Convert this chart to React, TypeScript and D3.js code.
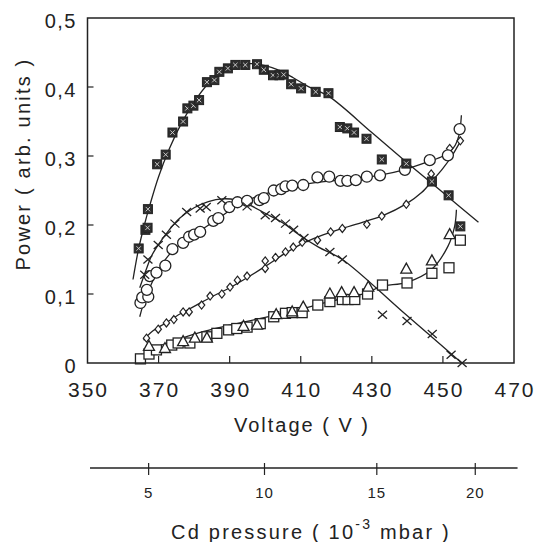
import React from 'react';
import * as d3 from 'd3';

type Pt = [number, number];

// Axis ticks
const xTicks = [350, 370, 390, 410, 430, 450, 470];
const yTicks = [0, 0.1, 0.2, 0.3, 0.4, 0.5];
const yTickLabels = ['0', '0,1', '0,2', '0,3', '0,4', '0,5'];
const pressureTicks = [5, 10, 15, 20];
const pressureTickVoltage = [367.2, 399.8, 431.4, 459.1];

// Series: [voltage, power]
const crossedSquares: Pt[] = [
  [364.4, 0.166], [366.3, 0.193], [366.9, 0.196], [367.0, 0.223], [369.6, 0.288], [372.0, 0.302],
  [373.9, 0.334], [376.9, 0.35], [378.1, 0.369], [379.8, 0.373], [381.4, 0.381], [383.6, 0.407],
  [385.7, 0.41], [387.1, 0.422], [389.5, 0.427], [391.6, 0.432], [394.4, 0.432], [397.7, 0.433],
  [399.6, 0.425], [402.2, 0.417], [404.0, 0.417], [405.2, 0.418], [407.3, 0.404], [410.1, 0.398],
  [414.2, 0.393], [417.8, 0.391], [421.0, 0.342], [423.1, 0.34], [425.0, 0.334], [428.5, 0.325],
  [432.8, 0.295], [439.7, 0.289], [446.9, 0.263], [451.6, 0.243], [454.9, 0.198],
];
const crossedSquaresFit: Pt[] = [
  [362.8, 0.121], [364.4, 0.166], [366, 0.2], [367.5, 0.228], [370, 0.27], [373, 0.31], [376, 0.343],
  [380, 0.378], [384, 0.405], [388, 0.422], [392, 0.431], [396, 0.434], [400, 0.431], [404, 0.424],
  [408, 0.413], [412, 0.401], [418, 0.386], [430, 0.334], [440, 0.29], [450, 0.247], [460, 0.204],
];

const circles: Pt[] = [
  [364.9, 0.087], [365.4, 0.095], [367.1, 0.096], [366.7, 0.106], [367.5, 0.126], [369.4, 0.131],
  [371.9, 0.141], [373.9, 0.165], [376.9, 0.174], [378.6, 0.183], [380.0, 0.186], [381.7, 0.19],
  [385.4, 0.206], [386.8, 0.21], [389.9, 0.226], [392.2, 0.233], [394.9, 0.235], [398.4, 0.236],
  [399.6, 0.239], [402.4, 0.25], [404.5, 0.252], [405.7, 0.256], [407.6, 0.257], [410.7, 0.258],
  [414.7, 0.269], [418.0, 0.27], [421.2, 0.264], [423.1, 0.264], [425.5, 0.265], [428.6, 0.27],
  [432.3, 0.272], [439.3, 0.28], [446.3, 0.294], [451.4, 0.301], [454.7, 0.339],
];
const circlesFit: Pt[] = [
  [364.7, 0.067], [366, 0.09], [368, 0.115], [370, 0.135], [373, 0.157], [377, 0.176], [382, 0.193],
  [387, 0.21], [392, 0.228], [397, 0.24], [402, 0.248], [408, 0.256], [415, 0.262], [425, 0.267],
  [432, 0.272], [439, 0.28], [446, 0.292], [450, 0.3], [453, 0.312], [454.5, 0.33], [455.2, 0.359],
];

const diamonds: Pt[] = [
  [366.6, 0.036], [369.9, 0.049], [372.2, 0.058], [374.3, 0.063], [376.9, 0.074], [378.6, 0.074],
  [382.1, 0.084], [384.5, 0.097], [387.8, 0.1], [390.1, 0.11], [392.2, 0.12], [394.9, 0.126],
  [400.0, 0.137], [400.0, 0.148], [402.9, 0.153], [405.7, 0.161], [407.9, 0.168], [410.4, 0.175],
  [414.7, 0.178], [418.4, 0.19], [421.7, 0.195], [428.6, 0.201], [432.8, 0.213], [439.7, 0.23],
  [446.7, 0.274], [451.9, 0.311], [454.9, 0.322],
];
const diamondsFit: Pt[] = [
  [365.8, 0.033], [368, 0.045], [372, 0.058], [376, 0.071], [380, 0.082], [385, 0.096], [390, 0.109],
  [395, 0.124], [400, 0.14], [405, 0.157], [410, 0.172], [415, 0.183], [421.7, 0.195], [428, 0.205],
  [432.8, 0.213], [439.8, 0.231], [444, 0.247], [447, 0.264], [450, 0.282], [452.5, 0.3], [455, 0.322],
];

const crosses: Pt[] = [
  [366.1, 0.128], [367.0, 0.15], [369.9, 0.171], [372.2, 0.186], [374.6, 0.202], [377.9, 0.219],
  [381.7, 0.224], [383.4, 0.226], [387.8, 0.236], [394.9, 0.227], [400.0, 0.214], [402.9, 0.21],
  [405.7, 0.202], [408.0, 0.193], [410.9, 0.181], [418.2, 0.161], [421.7, 0.15], [433.0, 0.07],
  [439.9, 0.061], [447.0, 0.042], [452.3, 0.012], [455.4, 0.0],
];
const crossesFit: Pt[] = [
  [364.7, 0.109], [366.5, 0.135], [368, 0.155], [370, 0.172], [373, 0.193], [376, 0.21], [380, 0.225],
  [384, 0.234], [388, 0.238], [392, 0.236], [396, 0.228], [400, 0.217], [405, 0.203], [410, 0.184],
  [415, 0.168], [421.7, 0.15], [438.5, 0.075], [455.3, 0.0],
];

const squares: Pt[] = [
  [364.9, 0.006], [367.3, 0.013], [369.4, 0.019], [373.7, 0.026], [375.5, 0.029], [378.8, 0.029],
  [383.6, 0.038], [386.4, 0.043], [389.7, 0.048], [392.0, 0.05], [394.9, 0.052], [398.6, 0.057],
  [402.4, 0.067], [405.7, 0.072], [407.6, 0.073], [410.4, 0.073], [414.8, 0.084], [418.2, 0.089],
  [421.7, 0.092], [423.3, 0.092], [425.2, 0.092], [428.8, 0.1], [433.0, 0.113], [439.9, 0.116],
  [446.9, 0.13], [451.7, 0.138], [454.9, 0.178],
];
const triangles: Pt[] = [
  [367.3, 0.024], [371.8, 0.021], [376.9, 0.031], [380.2, 0.036], [383.6, 0.036], [393.9, 0.053],
  [397.7, 0.055], [403.1, 0.07], [407.6, 0.074], [410.7, 0.081], [418.2, 0.1], [421.5, 0.102],
  [425.0, 0.102], [429.0, 0.11], [439.7, 0.136], [446.9, 0.148], [451.9, 0.186],
];
const squaresFit: Pt[] = [
  [364.5, 0.003], [367, 0.015], [370, 0.024], [375, 0.033], [380, 0.042], [390, 0.055], [400, 0.066],
  [410, 0.078], [418, 0.089], [428.8, 0.102], [432.5, 0.111], [440, 0.117], [446.7, 0.135],
  [451.4, 0.169], [453.3, 0.198], [453.8, 0.222],
];

const W = 539;
const H = 542;
const INK = '#222';
const FONT = '"Liberation Sans", Arial, Helvetica, sans-serif';

export default function App() {
  const x = d3.scaleLinear().domain([350, 470]).range([87.5, 514]);
  const y = d3.scaleLinear().domain([0, 0.5]).range([363, 18]);
  const px = d3.scaleLinear().domain(pressureTicks).range(pressureTickVoltage.map((v) => x(v)));

  const line = d3
    .line<Pt>()
    .x((d) => x(d[0]))
    .y((d) => y(d[1]))
    .curve(d3.curveCatmullRom.alpha(0.5));

  const fits = [crossedSquaresFit, circlesFit, diamondsFit, crossesFit, squaresFit];

  return (
    <svg
      width={W}
      height={H}
      style={{ position: 'absolute', left: 0, top: 0, background: '#fff' }}
      fontFamily={FONT}
    >
      <rect x={0} y={0} width={W} height={H} fill="#fff" />

      {/* Fitted curves */}
      {fits.map((f, i) => (
        <path key={i} d={line(f) || ''} fill="none" stroke={INK} strokeWidth={1.3} />
      ))}

      {/* Open squares */}
      {squares.map((d, i) => (
        <rect key={'s' + i} x={x(d[0]) - 5} y={y(d[1]) - 5} width={10} height={10} fill="#fff" stroke={INK} strokeWidth={1.3} />
      ))}
      {/* Triangles */}
      {triangles.map((d, i) => {
        const cx = x(d[0]);
        const cy = y(d[1]);
        return (
          <path key={'t' + i} d={`M${cx},${cy - 6}L${cx + 5.5},${cy + 4}L${cx - 5.5},${cy + 4}Z`} fill="#fff" stroke={INK} strokeWidth={1.3} />
        );
      })}
      {/* Diamonds */}
      {diamonds.map((d, i) => {
        const cx = x(d[0]);
        const cy = y(d[1]);
        return (
          <path key={'d' + i} d={`M${cx},${cy - 4}L${cx + 3.2},${cy}L${cx},${cy + 4}L${cx - 3.2},${cy}Z`} fill="#fff" stroke={INK} strokeWidth={1.2} />
        );
      })}
      {/* Circles */}
      {circles.map((d, i) => (
        <circle key={'c' + i} cx={x(d[0])} cy={y(d[1])} r={5.5} fill="#fff" stroke={INK} strokeWidth={1.3} />
      ))}
      {/* Crosses */}
      {crosses.map((d, i) => {
        const cx = x(d[0]);
        const cy = y(d[1]);
        return (
          <path key={'x' + i} d={`M${cx - 4.5},${cy - 4}L${cx + 4.5},${cy + 4}M${cx + 4.5},${cy - 4}L${cx - 4.5},${cy + 4}`} stroke={INK} strokeWidth={1.3} />
        );
      })}
      {/* Crossed filled squares */}
      {crossedSquares.map((d, i) => {
        const cx = x(d[0]);
        const cy = y(d[1]);
        return (
          <g key={'q' + i}>
            <rect x={cx - 4.5} y={cy - 4.5} width={9} height={9} fill="#2e2e2e" stroke={INK} strokeWidth={1} />
            <path d={`M${cx - 2.2},${cy - 2.2}L${cx + 2.2},${cy + 2.2}M${cx + 2.2},${cy - 2.2}L${cx - 2.2},${cy + 2.2}`} stroke="#d8d8d8" strokeWidth={0.9} />
          </g>
        );
      })}

      {/* Frame */}
      <rect x={x(350)} y={y(0.5)} width={x(470) - x(350)} height={y(0) - y(0.5)} fill="none" stroke={INK} strokeWidth={1.5} />
      {/* X ticks (inward) */}
      {xTicks.slice(1, -1).map((t) => (
        <line key={'xt' + t} x1={x(t)} x2={x(t)} y1={y(0)} y2={y(0) - 7} stroke={INK} strokeWidth={1.2} />
      ))}
      {yTicks.slice(1, -1).map((t) => (
        <line key={'yt' + t} x1={x(350)} x2={x(350) + 6} y1={y(t)} y2={y(t)} stroke={INK} strokeWidth={1.2} />
      ))}

      {/* X tick labels */}
      {xTicks.map((t) => (
        <text key={'xl' + t} x={x(t) + 1} y={397} textAnchor="middle" fontSize={21} letterSpacing={2} fill={INK}>
          {t}
        </text>
      ))}
      {/* Y tick labels */}
      {yTicks.map((t, i) => (
        <text key={'yl' + t} x={77} y={y(t) + 9.5} textAnchor="end" fontSize={20} letterSpacing={1.5} fill={INK}>
          {yTickLabels[i]}
        </text>
      ))}

      <text x={302} y={432} textAnchor="middle" fontSize={20} letterSpacing={2} fill={INK}>
        Voltage ( V )
      </text>
      <text transform="translate(30,164) rotate(-90)" textAnchor="middle" fontSize={20} letterSpacing={2.2} fill={INK}>
        Power ( arb. units )
      </text>

      {/* Pressure axis */}
      <line x1={x(350.7)} x2={x(471)} y1={468} y2={468} stroke={INK} strokeWidth={1.3} />
      {pressureTicks.map((t) => (
        <g key={'pt' + t}>
          <line x1={px(t)} x2={px(t)} y1={463} y2={475} stroke={INK} strokeWidth={1.2} />
          <text x={px(t)} y={498} textAnchor="middle" fontSize={15} letterSpacing={1} fill={INK}>
            {t}
          </text>
        </g>
      ))}
      <text x={311} y={539} textAnchor="middle" fontSize={20} letterSpacing={2.2} fill={INK}>
        Cd pressure ( 10
        <tspan fontSize={14} dy={-10}>-3</tspan>
        <tspan dy={10}> mbar )</tspan>
      </text>
    </svg>
  );
}
